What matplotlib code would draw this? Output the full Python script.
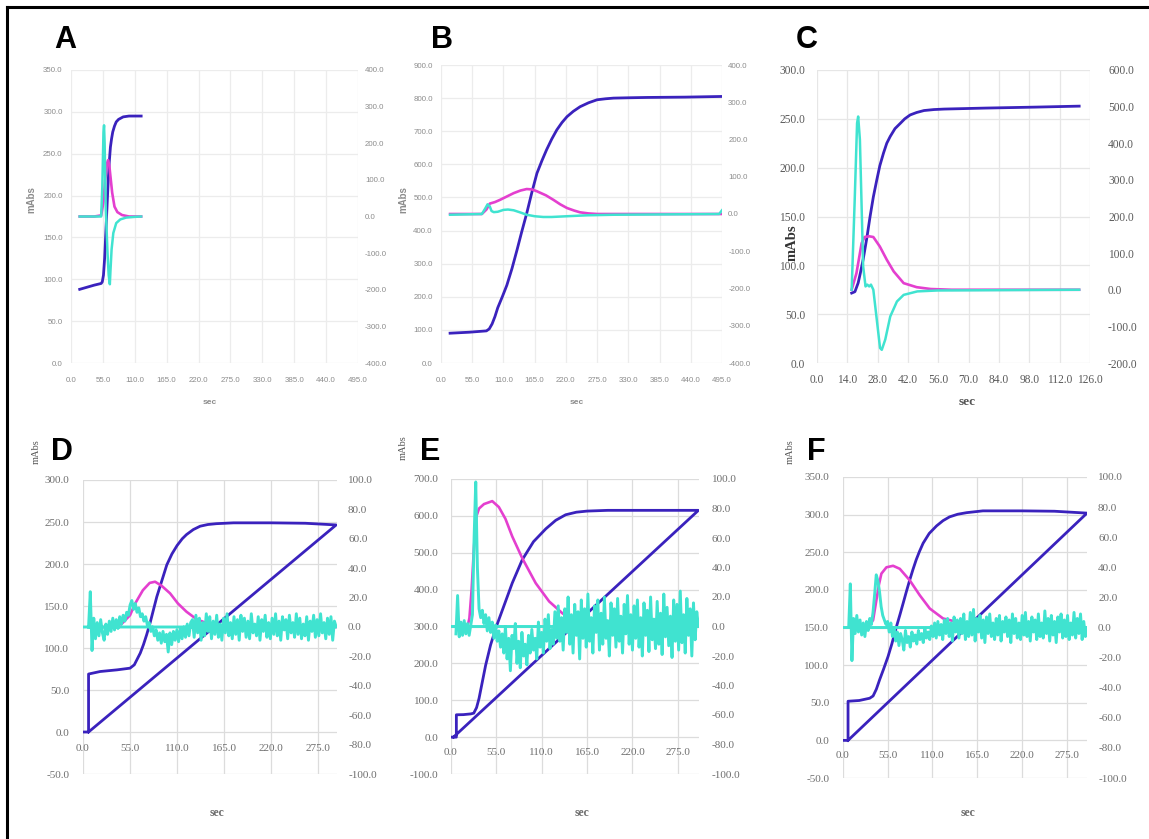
import numpy as np
import matplotlib
matplotlib.use("Agg")
import matplotlib.pyplot as plt
from matplotlib.ticker import FormatStrFormatter, MultipleLocator
from matplotlib.lines import Line2D

W, H = 1149, 839

PURPLE = "#3a22bd"
MAGENTA = "#e43fcf"
CYAN = "#40e3d0"

# ---------------- panel A ----------------
a_pur_t = [15, 25, 40, 52, 54, 56, 58, 60, 62, 64, 66, 68, 70, 72, 75, 78, 82, 90, 100, 121]
a_pur_v = [88, 90, 93, 95, 97, 105, 125, 155, 185, 215, 240, 258, 268, 276, 283, 288, 291, 294, 295, 295]
a_mag_t = [15, 40, 52, 56, 59, 62, 64, 66, 68, 71, 75, 80, 88, 100, 121]
a_mag_v = [0, 0, 3, 40, 100, 145, 154, 140, 110, 65, 27, 12, 4, 0, 0]
a_cya_t = [15, 40, 52, 54, 56, 57, 58, 60, 63, 65, 67, 68, 70, 73, 78, 85, 95, 110, 121]
a_cya_v = [0, 0, 0, 80, 230, 249, 200, 20, -100, -160, -185, -150, -90, -45, -18, -8, -3, -1, 0]

# ---------------- panel B ----------------
b_pur_t = [16, 50, 80, 85, 90, 95, 100, 108, 116, 125, 134, 142, 151, 160, 169, 178, 186, 195,
           204, 213, 222, 233, 245, 260, 275, 290, 304, 330, 363, 430, 495]
b_pur_v = [90, 93, 97, 103, 118, 140, 167, 200, 235, 285, 342, 395, 452, 515, 573, 612, 644, 676,
           704, 726, 744, 760, 774, 786, 795, 798, 800, 801, 802, 803, 805]
b_mag_t = [16, 72, 80, 86, 95, 104, 116, 128, 140, 151, 160, 169, 185, 198, 210, 222, 235, 245, 260, 275, 495]
b_mag_v = [0, 0, 12, 28, 32, 38, 47, 56, 63, 67, 66, 61, 50, 38, 26, 16, 9, 4.5, 1.5, 0, 0]
b_cya_t = [16, 72, 78, 82, 86, 89, 93, 100, 110, 118, 128, 140, 151, 165, 180, 195, 222, 257, 304, 400, 490, 495]
b_cya_v = [-2, 0, 15, 26, 20, 8, 5, 6, 11, 12, 10, 4, -2, -6, -8, -8, -6, -3.5, -2, -1, 0, 10]

# ---------------- panel C ----------------
c_pur_t = [16, 17.5, 19, 20, 21.3, 23, 24.5, 26, 27.6, 29, 30.7, 32.2, 33.8, 36, 38.5, 40.5,
           43, 46, 49.4, 54, 58.7, 77.4, 100.8, 121]
c_pur_v = [71.6, 73, 82, 92, 106, 128, 150, 170, 187.5, 202, 215, 225, 232, 240, 245.5, 250,
           254, 256.5, 258.5, 259.5, 260, 261, 262, 263]
c_mag_t = [16, 18.2, 20.6, 22, 24, 26, 29, 32.2, 35.4, 40, 46, 52.5, 62, 121]
c_mag_v = [0, 45, 127, 144, 146, 144, 118, 82, 50, 18, 7, 2, 0, 0]
c_cya_t = [16, 17.4, 18.5, 19, 19.8, 21.3, 22.4, 23.2, 24.1, 24.9, 26, 27.6, 29.1, 29.9,
           31.5, 33.8, 36.9, 40, 46.3, 55.6, 121]
c_cya_v = [0, 245, 455, 473, 410, 64, 9, 14, 9, 14, 0, -82, -159, -164,
           -136, -73, -32, -14, -4.5, -2, 0]

# ---------------- panel D ----------------
d_pur_t = [0, 6.5, 6.5, 20, 40, 55, 60, 63, 67, 70.7, 74.5, 78.5, 82.5, 86.3, 90, 94, 98, 104,
           110, 116, 121, 129, 137, 146, 156, 176, 220, 260, 296, 6.5]
d_pur_v = [0, 0, 69, 72, 74, 76, 80, 86, 94, 104, 116, 130, 146, 161, 173, 186, 199, 212,
           222, 230, 235, 241, 245, 247, 248, 249, 249, 248.5, 246.5, 0]
d_mag_t = [6.5, 30, 45, 55, 61, 70, 78, 84.3, 92, 101.8, 111, 121, 133, 150, 170, 296]
d_mag_v = [0, 0, 2, 8, 16, 25, 30, 30.8, 28, 22.9, 16, 10.4, 5.2, 1.5, 0, 0]
d_cya_span = (6.5, 296)
d_cya_v = [0, 24, -16, 6, -8, 3, -6, 5, -4, -9, 2, -5, 4, -3, 6, -2, 5, -1, 7, 2,
           8, 4, 10, 8, 15, 18, 12, 16, 10, 13, 7, 9, 4, 7, 1, 3, -3, 0, -6, -2,
           -9, -4, -11, -3, -10, -5, -17, -4, -12, -3, -9, -2, -10, -1, -8, 0, -7, 2, -6, 3,
           5, -7, 8, -4, 6, -9, 3, -6, 9, -3, 7, -8, 4, -5, 8, -7, 2, -9, 6, -4,
           9, -6, 3, -8, 7, -5, 5, -9, 8, -3, 6, -7, 4, -8, 9, -4, 2, -6, 7, -9,
           5, -3, 8, -7, 3, -8, 6, -5, 9, -6, 4, -9, 7, -2, 5, -8, 8, -4, 3, -7,
           9, -5, 6, -8, 2, -6, 7, -9, 4, -3, 8, -7, 5, -6, 9, -4, 3, -8, 6, -5,
           7, -9, 4, 0]
d_cya_close = 0.0

# ---------------- panel E ----------------
e_pur_t = [0, 6.5, 6.5, 15, 24, 27.6, 31, 34, 38, 42, 48, 55, 64, 74.3, 86.4, 100, 115, 127,
           139, 152, 165, 190, 240, 300, 3]
e_pur_v = [0, 0, 60.6, 61, 63, 65, 80, 105, 150, 195, 250, 300, 355, 418, 481, 530, 565, 588,
           603, 610, 613, 615, 615, 615, 0]
e_mag_t = [4, 20, 22.3, 25, 28, 31, 34, 40, 50, 58, 66, 74.3, 86.4, 102.7, 119, 135, 150, 170, 200, 300]
e_mag_v = [0, 0, 5.6, 25, 55, 75, 80, 83, 85, 81, 73, 61, 46.3, 29.4, 17, 9, 4, 1, 0, 0]
e_cya_span = (6, 300)
e_cya_v = [-5, 21, -7, 3, -6, 4, -5, 2, -6, 1, 8, 60, 98, 40, 12, 6, 11, 2, 8, -3,
           6, -4, 3, -8, 1, -10, -3, -14, -5, -18, 0, -22, -8, -30, -6, -15, 2, -25, -10, -28,
           -4, -20, -12, -26, -6, -18, -2, -16, -8, -22, 3, -14, -4, -18, 5, -10, 8, -15, -2, -12,
           10, -8, 14, -10, 6, -16, 12, -4, 20, -12, 8, -18, 15, -6, 10, -22, 18, -8, 12, -14,
           22, -10, 6, -18, 14, -4, 18, -16, 9, -12, 20, -8, 4, -20, 16, -6, 12, -14, 19, -10,
           7, -18, 15, -5, 21, -12, 8, -16, 14, -8, 18, -14, 6, -20, 16, -6, 11, -17, 20, -9,
           5, -15, 17, -12, 9, -19, 22, -7, 13, -13, 7, -21, 18, -10, 15, -16, 24, -11, 8, -18,
           19, -6, 12, -20, 16, -9, 10, 0]
e_cya_close = 0.0

# ---------------- panel F ----------------
f_pur_t = [0, 6.2, 6.2, 20, 32.8, 37, 41, 45, 50, 55.4, 60, 65.7, 70, 73.9, 78, 82, 86, 90, 94,
           98.5, 106, 115, 123, 131, 141, 152, 172, 220, 260, 300, 6.2]
f_pur_v = [0, 0, 52, 53, 56, 59, 68, 80.5, 95, 111.5, 128, 151, 167, 182, 198, 213, 227, 240, 251,
           262, 275, 285, 292, 297, 300.5, 302.6, 305, 305, 304.5, 302, 0]
f_mag_t = [6, 30, 37, 41, 44, 47.2, 53.4, 61.6, 69.8, 82, 94.4, 106.7, 123, 139.6, 155, 175, 300]
f_mag_v = [0, 0, 4.9, 18, 28, 35.8, 40, 41, 39, 31.4, 21.4, 12.6, 6, 3.8, 1.5, 0, 0]
f_cya_span = (7, 300)
f_cya_v = [0, 29, -22, 6, -4, 8, -3, 5, -5, 3, -6, 4, -2, 6, 2, 10, 22, 35, 31, 24,
           14, 8, 5, 2, 4, -3, 3, -6, 0, -9, -3, -12, -4, -8, -15, -2, -10, -6, -13, -3,
           -9, -5, -11, -2, -8, -4, -10, -1, -7, -3, -8, 1, -6, 3, -7, 4, -5, 2, -8, 5,
           -4, 6, -6, 3, -9, 7, -3, 5, -7, 6, -4, 9, -8, 4, -6, 10, -5, 12, -9, 6,
           -3, 8, -7, 5, -10, 7, -4, 9, -6, 3, -8, 6, -5, 8, -9, 4, -3, 7, -6, 5,
           -10, 9, -4, 6, -7, 3, -8, 8, -5, 10, -6, 4, -9, 7, -3, 5, -8, 9, -6, 3,
           -7, 11, -4, 6, -9, 8, -5, 4, -10, 7, -3, 9, -7, 5, -6, 8, -8, 3, -5, 10,
           -7, 6, -4, 9, -8, 4, -6, 0]
f_cya_close = 0.0


def px_axes(fig, l, t, r, b):
    return fig.add_axes([l / W, 1 - b / H, (r - l) / W, (b - t) / H])


def frame(ax, ax2, xlim, xstep, ylim, ystep, y2lim, y2step, font, size, color,
          pads, grid_color, zero_axis=False):
    fam = [font, "DejaVu Serif" if "Serif" in font else "DejaVu Sans"]
    ax.set_xlim(*xlim)
    ax.set_ylim(*ylim)
    ax2.set_ylim(*y2lim)
    ax.xaxis.set_major_locator(MultipleLocator(xstep))
    ax.yaxis.set_major_locator(MultipleLocator(ystep))
    ax2.yaxis.set_major_locator(MultipleLocator(y2step))
    for a in (ax.xaxis, ax.yaxis, ax2.yaxis):
        a.set_major_formatter(FormatStrFormatter("%.1f"))
    for a in (ax, ax2):
        for s in a.spines.values():
            s.set_color("none")
    if zero_axis:
        ax.spines["bottom"].set_position(("data", 0))
    ax.grid(True, color=grid_color, lw=0.9)
    ax.set_axisbelow(True)
    ax.tick_params(axis="x", length=0, pad=pads[2], labelsize=size, labelcolor=color)
    ax.tick_params(axis="y", length=0, pad=pads[0], labelsize=size, labelcolor=color)
    ax2.tick_params(axis="y", length=0, pad=pads[1], labelsize=size, labelcolor=color)
    for lab in ax.get_xticklabels() + ax.get_yticklabels() + ax2.get_yticklabels():
        lab.set_family(fam)


def draw(ax, ax2, pur, mag, cya, lw_c):
    ax.plot(pur[0], pur[1], color=PURPLE, lw=2.0, zorder=3, solid_joinstyle="round")
    ax2.plot(mag[0], mag[1], color=MAGENTA, lw=1.9, zorder=3, solid_joinstyle="round")
    ax2.plot(cya[0], cya[1], color=CYAN, lw=lw_c, zorder=4, solid_joinstyle="round")


def noise(span, vals, close):
    t = np.linspace(span[0], span[1], len(vals))
    return np.append(t, 0.0), np.append(vals, close)


fig = plt.figure(figsize=(W / 100, H / 100), dpi=100)
fig.patch.set_facecolor("white")

SANS = "Liberation Sans"
SERIF = "Liberation Serif"

# A
ax = px_axes(fig, 71, 70, 358, 363)
ax2 = ax.twinx()
draw(ax, ax2, (a_pur_t, a_pur_v), (a_mag_t, a_mag_v), (a_cya_t, a_cya_v), 1.8)
frame(ax, ax2, (0, 495), 55, (0, 350), 50, (-400, 400), 100, SANS, 5.7, "#8c8c8c",
      (6, 5, 10), "#ececec")

# B
ax = px_axes(fig, 441, 65, 722, 363)
ax2 = ax.twinx()
draw(ax, ax2, (b_pur_t, b_pur_v), (b_mag_t, b_mag_v), (b_cya_t, b_cya_v), 1.8)
frame(ax, ax2, (0, 495), 55, (0, 900), 100, (-400, 400), 100, SANS, 5.7, "#8c8c8c",
      (6, 4.5, 10), "#ececec")

# C
ax = px_axes(fig, 817, 70, 1090, 363)
ax2 = ax.twinx()
draw(ax, ax2, (c_pur_t, c_pur_v), (c_mag_t, c_mag_v), (c_cya_t, c_cya_v), 1.8)
frame(ax, ax2, (0, 126), 14, (0, 300), 50, (-200, 600), 100, SERIF, 8.3, "#5a5a5a",
      (8.5, 13, 8), "#e6e6e6")

# D
ax = px_axes(fig, 83, 480, 337, 774)
ax2 = ax.twinx()
draw(ax, ax2, (d_pur_t, d_pur_v), (d_mag_t, d_mag_v),
     noise(d_cya_span, d_cya_v, d_cya_close), 2.1)
frame(ax, ax2, (0, 297), 55, (-50, 300), 50, (-100, 100), 20, SERIF, 8, "#6e6e6e",
      (10, 8, 8.5), "#dcdcdc", zero_axis=True)

# E
ax = px_axes(fig, 451, 479, 699, 774)
ax2 = ax.twinx()
draw(ax, ax2, (e_pur_t, e_pur_v), (e_mag_t, e_mag_v),
     noise(e_cya_span, e_cya_v, e_cya_close), 2.1)
frame(ax, ax2, (0, 300.7), 55, (-100, 700), 100, (-100, 100), 20, SERIF, 8, "#6e6e6e",
      (9, 9, 7.5), "#dcdcdc", zero_axis=True)

# F
ax = px_axes(fig, 843, 477, 1087, 778)
ax2 = ax.twinx()
draw(ax, ax2, (f_pur_t, f_pur_v), (f_mag_t, f_mag_v),
     noise(f_cya_span, f_cya_v, f_cya_close), 2.1)
frame(ax, ax2, (0, 300), 55, (-50, 350), 50, (-100, 100), 20, SERIF, 8, "#6e6e6e",
      (10, 8, 7.5), "#dcdcdc", zero_axis=True)


def ftext(x, y, s, **kw):
    fig.text(x / W, 1 - y / H, s, ha="center", va="center", **kw)


# panel letters
for s, x, y in [("A", 65, 40), ("B", 442, 40), ("C", 807, 40),
                ("D", 62, 452), ("E", 430, 452), ("F", 816, 452)]:
    ftext(x, y, s, fontsize=22, fontweight="bold", family=[SANS, "DejaVu Sans"])

# axis titles
ftext(210, 403, "sec", fontsize=6, fontweight="bold", color="#8c8c8c", family=[SANS, "DejaVu Sans"])
ftext(577, 403, "sec", fontsize=6, fontweight="bold", color="#8c8c8c", family=[SANS, "DejaVu Sans"])
ftext(967, 402, "sec", fontsize=9.5, fontweight="bold", color="#555555", family=[SERIF, "DejaVu Serif"])
for x in (217, 582, 968):
    ftext(x, 813, "sec", fontsize=8.5, fontweight="bold", color="#6e6e6e", family=[SERIF, "DejaVu Serif"])

ftext(31, 200, "mAbs", fontsize=7, fontweight="bold", color="#8c8c8c", rotation=90,
      family=[SANS, "DejaVu Sans"])
ftext(403, 200, "mAbs", fontsize=7, fontweight="bold", color="#8c8c8c", rotation=90,
      family=[SANS, "DejaVu Sans"])
ftext(792, 243, "mAbs", fontsize=10.5, fontweight="bold", color="#333333", rotation=90,
      family=[SERIF, "DejaVu Serif"])
for x, y in [(36, 452), (403, 448), (790, 452)]:
    ftext(x, y, "mAbs", fontsize=7.5, color="#555555", rotation=90, family=[SERIF, "DejaVu Serif"])

# black frame lines on left and top
fig.add_artist(Line2D([7 / W, 7 / W], [0, 1 - 7 / H], color="black", lw=2.2))
fig.add_artist(Line2D([7 / W, 1], [1 - 7 / H, 1 - 7 / H], color="black", lw=2.2))

fig.savefig("out.png", dpi=100, facecolor="white")
